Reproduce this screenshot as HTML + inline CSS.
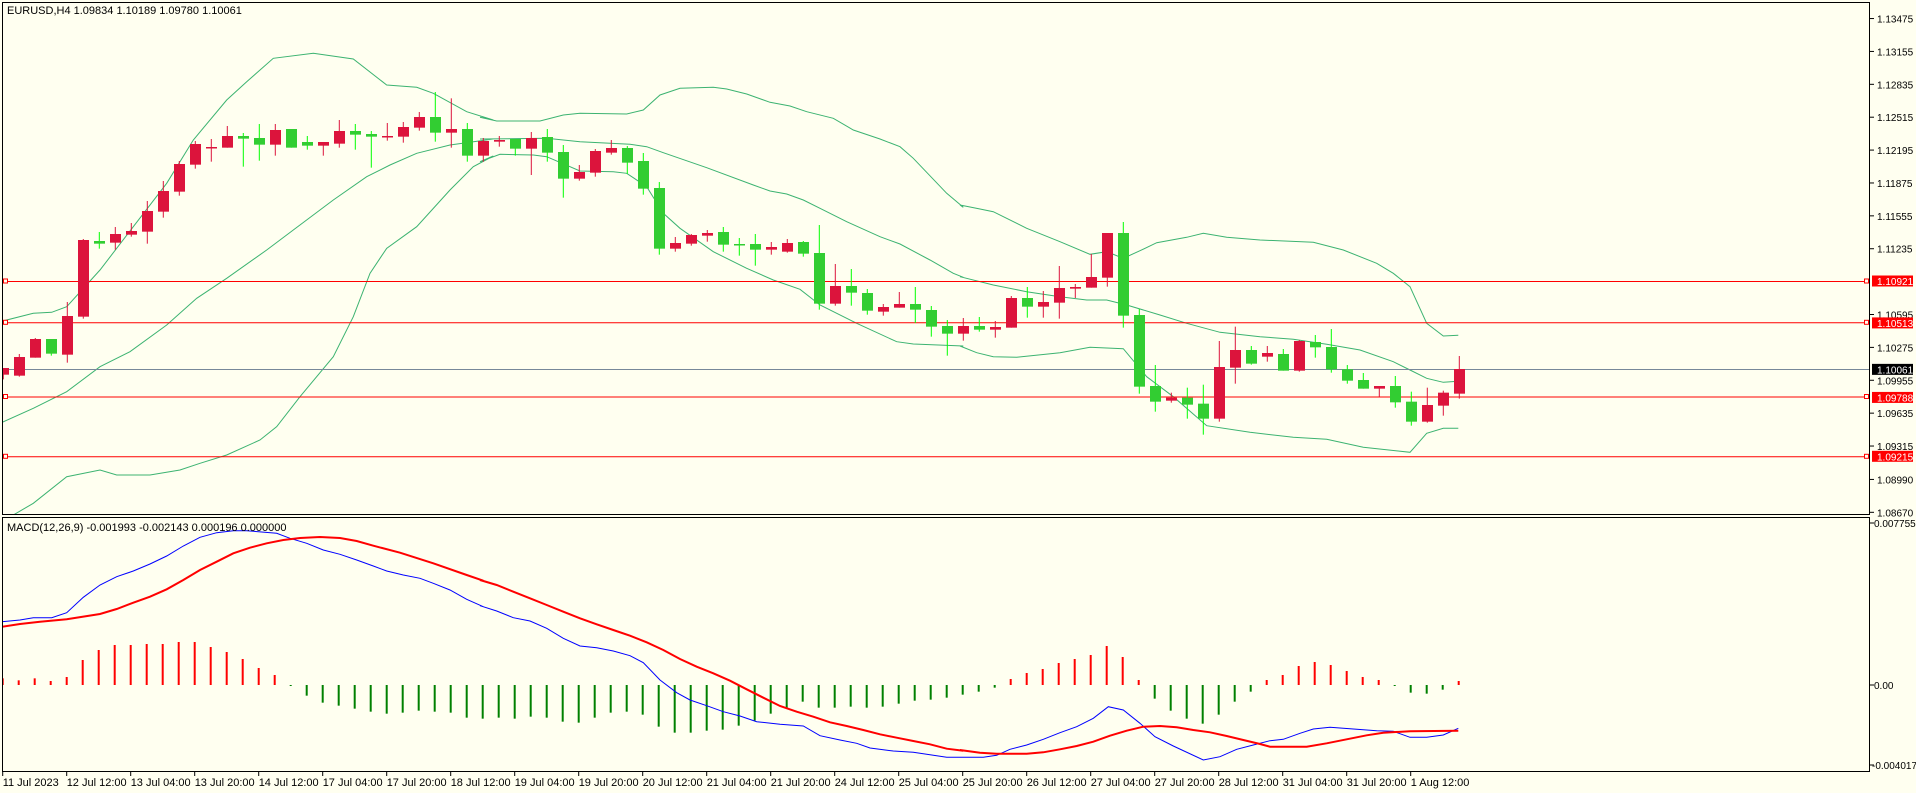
<!DOCTYPE html>
<html><head><meta charset="utf-8">
<style>
html,body{margin:0;padding:0;background:#fff;}
svg{display:block;}
text{font-family:"Liberation Sans",sans-serif;font-size:11px;fill:#000;}
text.ax{font-size:10px;}
</style></head>
<body>
<svg id="s" xmlns="http://www.w3.org/2000/svg" width="1916" height="793" viewBox="0 0 1916 793">
<rect x="0" y="0" width="1916" height="793" fill="#FFFFF0"/>
<defs>
<clipPath id="cm"><rect x="3" y="3" width="1866" height="511"/></clipPath>
<clipPath id="cd"><rect x="3" y="518" width="1866" height="253"/></clipPath>
</defs>
<g id="main" clip-path="url(#cm)"></g>
<g id="macd" clip-path="url(#cd)"></g>
<g id="axes"></g>
<text x="7" y="14">EURUSD,H4  1.09834 1.10189 1.09780 1.10061</text>
<text x="7" y="531">MACD(12,26,9) -0.001993 -0.002143 0.000196 0.000000</text>
</svg>
<script>
var NS="http://www.w3.org/2000/svg";
function el(p,t,a,txt){var e=document.createElementNS(NS,t);for(var k in a)e.setAttribute(k,a[k]);if(txt!==undefined)e.textContent=txt;document.getElementById(p).appendChild(e);return e;}
var M=40;
var C=[
['r',984,984,1004,1018],['r',942,951,1007,1010],['r',894,897,953,953],['g',897,897,941,947],['r',786,828,944,968],
['r',597,600,830,836],['g',576,603,611,626],['r',561,582,608,629],['r',549,573,584,590],['r',483,513,575,611],
['r',423,453,515,533],['r',363,372,455,467],['r',303,312,374,386],['r',297,321,323,365],['r',258,288,323,323],
['g',279,288,296,380],['g',252,294,314,362],['r',252,270,314,347],['g',267,267,323,323],['g',288,306,317,329],
['r',306,306,317,347],['r',240,273,311,323],['g',252,273,284,329],['g',273,282,290,383],['r',249,288,290,302],
['r',246,261,290,308],['r',216,231,263,272],['g',156,231,278,305],['r',175,267,278,323],['g',249,267,347,365],
['r',294,303,347,365],['r',288,300,305,320],['g',297,297,326,347],['r',276,294,326,405],['g',267,291,338,365],
['g',315,336,416,473],['r',375,396,416,422],['r',327,333,398,410],['r',300,324,338,344],['g',318,324,368,401],
['g',339,363,446,464],['g',426,444,626,644],['r',591,609,626,635],['r',582,585,611,617],['r',570,579,587,605],
['g',561,576,614,635],['g',594,612,614,647],['g',582,612,629,677],['r',606,621,629,644],['r',597,609,635,638],
['g',603,606,641,650],['g',555,639,791,809],['r',672,738,791,797],['g',687,738,758,797],['g',747,759,812,824],
['r',792,801,815,827],['r',756,792,803,803],['g',741,792,809,849],['g',798,810,860,890],['g',840,858,881,947],
['r',834,858,881,902],['g',831,858,869,875],['r',843,861,869,893],['r',768,774,863,863],['g',741,774,800,833],
['r',753,786,800,833],['r',678,744,788,836],['r',732,741,746,774],['r',642,711,743,743],['r',579,579,713,740],
['g',546,579,827,863],['g',807,825,1040,1061],['g',975,1038,1085,1115],['r',1058,1073,1082,1088],['g',1043,1073,1094,1136],
['g',1034,1091,1136,1184],['r',903,981,1136,1145],['r',860,930,983,1031],['g',918,930,971,974],['r',918,939,950,965],
['g',927,942,992,992],['r',900,903,992,995],['g',885,906,922,953],['g',867,921,988,998],['g',975,988,1022,1031],
['g',999,1020,1046,1046],['r',1038,1038,1046,1070],['g',1008,1038,1087,1103],['g',1055,1085,1145,1157],['r',1043,1095,1145,1148],
['r',1052,1058,1097,1127],['r',948,987,1061,1076]];
function Y(z){return M+z/3;}
function pts(arr,xoff,yoff){return arr.map(function(p){return (xoff+p[0]/3).toFixed(1)+','+(yoff+p[1]/3).toFixed(1);}).join(' ');}
var up=pts([[0,845],[100,820],[155,817],[200,800],[300,690],[400,560],[500,430],[580,300],[680,180],[740,125],[820,55],[940,40],[1060,57],[1160,135],[1250,142],[1300,160],[1400,215],[1480,240]],0,40)+' '+
pts([[0,232],[50,243],[180,243],[250,225],[300,220],[440,222],[490,210],[540,165],[600,145],[700,142],[740,147],[800,162],[870,187],[930,198],[980,215],[1060,235],[1120,270],[1200,297],[1260,320],[1300,355],[1400,460],[1450,502]],480,40)+' '+
pts([[0,495],[60,507],[100,515],[200,565],[300,605],[390,643],[440,635],[490,655],[540,632],[590,608],[680,592],[730,580],[800,592],[900,600],[1060,607],[1150,630],[1250,670],[1300,700],[1350,740],[1400,850],[1450,888],[1495,886]],960,40);
var mid=pts([[0,1150],[100,1105],[200,1055],[300,980],[390,935],[500,855],[590,775],[680,715],[800,630],[880,570],[1000,480],[1100,410],[1170,375],[1250,340],[1350,315],[1480,297]],0,40)+' '+
pts([[0,297],[200,295],[300,305],[450,313],[500,320],[550,338],[680,383],[820,435],[870,453],[920,462],[970,480],[1020,505],[1100,545],[1200,590],[1260,612],[1350,660],[1420,700],[1450,712]],480,40)+' '+
pts([[0,710],[100,735],[200,755],[300,770],[380,780],[440,780],[500,795],[600,825],[680,850],[780,877],[900,890],[1000,898],[1100,913],[1200,930],[1300,965],[1350,990],[1400,1015],[1450,1027],[1495,1024]],960,40);
var low=pts([[40,1425],[100,1390],[200,1310],[300,1290],[350,1305],[450,1305],[540,1290],[600,1270],[680,1245],[780,1200],[830,1160],[900,1070],[1000,950],[1060,830],[1110,700],[1160,625],[1250,560],[1350,450],[1420,380],[1480,348]],0,40)+' '+
pts([[0,365],[60,343],[160,345],[200,350],[300,393],[400,395],[440,400],[500,440],[550,520],[600,565],[700,635],[800,685],[880,720],[960,748],[1020,795],[1130,850],[1250,905],[1300,912],[1450,918]],480,40)+' '+
pts([[0,918],[50,938],[100,950],[170,952],[300,938],[390,922],[490,926],[560,1010],[640,1070],[740,1157],[870,1177],[1000,1192],[1100,1198],[1210,1222],[1350,1237],[1400,1180],[1450,1165],[1495,1165]],960,40);
[up,mid,low].forEach(function(p){el('main','polyline',{points:p,fill:'none',stroke:'#3CB371','stroke-width':1});});
[[281,'#FF0000'],[322.3,'#FF0000'],[369,'#778899'],[396.5,'#FF0000'],[456.3,'#FF0000']].forEach(function(h){
 el('main','line',{x1:2,x2:1870,y1:h[0]+0.5,y2:h[0]+0.5,stroke:h[1],'stroke-width':1});
 if(h[1]=='#FF0000'){el('main','rect',{x:3.5,y:h[0]-2,width:4,height:4,fill:'#FFFFF0',stroke:'#FF0000','stroke-width':1});
  el('main','rect',{x:1864.5,y:h[0]-2,width:4,height:4,fill:'#FFFFF0',stroke:'#FF0000','stroke-width':1});}
});
C.forEach(function(c,i){var x=3.3+16*i;var col=c[0]=='r'?'#DC143C':'#32CD32';var wc=c[0]=='r'?'#DC143C':'#00FF00';
 el('main','line',{x1:x,x2:x,y1:Y(c[1]),y2:Y(c[4]),stroke:wc,'stroke-width':1});
 var t=Y(c[2]),b=Y(c[3]);if(b-t<1.5){b=t+1.5;}
 el('main','rect',{x:x-5.3,y:t,width:11,height:b-t,fill:col});
});
var H=[505,511,505,513,501,450,420,405,405,402,402,396,396,411,426,447,474,495,528,557,578,587,596,605,611,608,602,605,608,623,626,623,626,620,623,635,638,623,608,605,614,650,668,668,662,659,647,632,611,593,575,593,593,590,593,590,581,572,569,563,554,545,533,507,489,477,459,447,435,408,441,510,566,602,626,641,614,575,545,510,495,468,456,465,483,501,510,527,548,551,539,513];
H.forEach(function(z,i){var x=2.7+16*i;var y=510+z/3,zero=685;var col=z<525?'#FF0000':'#008000';
 el('macd','rect',{x:x-1,y:Math.min(y,zero),width:2,height:Math.max(1,Math.abs(y-zero)),fill:col});});
var blue=pts([[8,335],[60,330],[100,323],[155,323],[200,308],[250,262],[300,225],[350,200],[400,183],[450,162],[500,138],[550,108],[600,82],[650,68],[700,62],[740,62],[830,70],[870,85],[920,100],[970,120],[1020,133],[1070,150],[1120,168],[1160,183],[1210,195],[1260,205],[1300,220],[1350,240],[1400,268],[1450,290]],0,510)+' '+
pts([[0,287],[50,303],[100,323],[150,333],[200,355],[250,385],[300,408],[350,413],[400,423],[450,437],[490,458],[540,510],[590,548],[630,570],[680,587],[730,605],[780,618],[830,635],[900,643],[970,648],[1020,677],[1080,690],[1130,700],[1170,714],[1240,723],[1300,727],[1400,742],[1450,742]],480,510)+' '+
pts([[0,742],[70,742],[110,736],[150,718],[200,705],[250,688],[300,668],[350,650],[400,625],[445,590],[490,600],[540,640],[585,680],[640,708],[730,750],[780,740],[830,718],[880,705],[930,692],[970,688],[1020,670],[1060,657],[1110,652],[1190,658],[1250,662],[1300,664],[1350,682],[1400,682],[1450,675],[1495,655]],960,510);
var sig=pts([[8,350],[60,342],[120,335],[200,328],[300,312],[350,297],[400,278],[450,260],[500,238],[550,210],[600,180],[650,155],[700,130],[750,113],[800,100],[850,90],[900,84],[960,81],[1020,84],[1070,93],[1120,107],[1200,128],[1300,160],[1400,195],[1450,212]],0,510)+' '+
pts([[0,210],[50,225],[100,245],[150,265],[200,285],[250,305],[300,325],[350,343],[400,360],[450,377],[500,397],[550,420],[600,447],[650,470],[700,490],[750,512],[800,538],[850,563],[900,588],[950,605],[1000,620],[1050,637],[1100,648],[1150,660],[1200,673],[1250,683],[1300,693],[1350,703],[1400,716],[1450,722]],480,510)+' '+
pts([[0,720],[60,728],[110,731],[200,731],[250,727],[300,718],[350,708],[400,695],[450,677],[500,662],[550,650],[600,648],[650,652],[700,660],[750,667],[800,678],[850,690],[900,702],[930,710],[1040,710],[1100,700],[1160,688],[1220,676],[1270,668],[1350,664],[1495,662]],960,510);
el('macd','polyline',{points:blue,fill:'none',stroke:'#0000FF','stroke-width':1});
el('macd','polyline',{points:sig,fill:'none',stroke:'#FF0000','stroke-width':2});
el('axes','rect',{x:2.5,y:2.5,width:1867,height:512,fill:'none',stroke:'#000','stroke-width':1});
el('axes','rect',{x:2.5,y:517.5,width:1867,height:254,fill:'none',stroke:'#000','stroke-width':1});
function py(p){return 281+(1.10921-p)*10276;}
['1.13475','1.13155','1.12835','1.12515','1.12195','1.11875','1.11555','1.11235','1.10595','1.10275','1.09955','1.09635','1.09315','1.08990','1.08670'].forEach(function(s){var y=py(parseFloat(s));
 el('axes','line',{x1:1870,x2:1874,y1:y,y2:y,stroke:'#000'});el('axes','text',{x:1877,y:y+4,'class':'ax'},s);});
[['1.10921','#FF0000'],['1.10513','#FF0000'],['1.10061','#000000'],['1.09788','#FF0000'],['1.09215','#FF0000']].forEach(function(l){var y=py(parseFloat(l[0]));
 el('axes','rect',{x:1872,y:y-5.5,width:41,height:11,fill:l[1]});el('axes','text',{x:1877,y:y+4,'class':'ax',style:'fill:#fff'},l[0]);});
[[523,'0.007755',1874],[685,'0.00',1874],[765,'-0.004017',1872]].forEach(function(a){
 el('axes','line',{x1:1870,x2:1874,y1:a[0],y2:a[0],stroke:'#000'});el('axes','text',{x:a[2],y:a[0]+4,'class':'ax'},a[1]);});
['11 Jul 2023','12 Jul 12:00','13 Jul 04:00','13 Jul 20:00','14 Jul 12:00','17 Jul 04:00','17 Jul 20:00','18 Jul 12:00','19 Jul 04:00','19 Jul 20:00','20 Jul 12:00','21 Jul 04:00','21 Jul 20:00','24 Jul 12:00','25 Jul 04:00','25 Jul 20:00','26 Jul 12:00','27 Jul 04:00','27 Jul 20:00','28 Jul 12:00','31 Jul 04:00','31 Jul 20:00','1 Aug 12:00'].forEach(function(s,k){var x=2.7+64*k;
 el('axes','line',{x1:x,x2:x,y1:772,y2:776,stroke:'#000'});el('axes','text',{x:x,y:786},s);});
</script>
</body></html>
